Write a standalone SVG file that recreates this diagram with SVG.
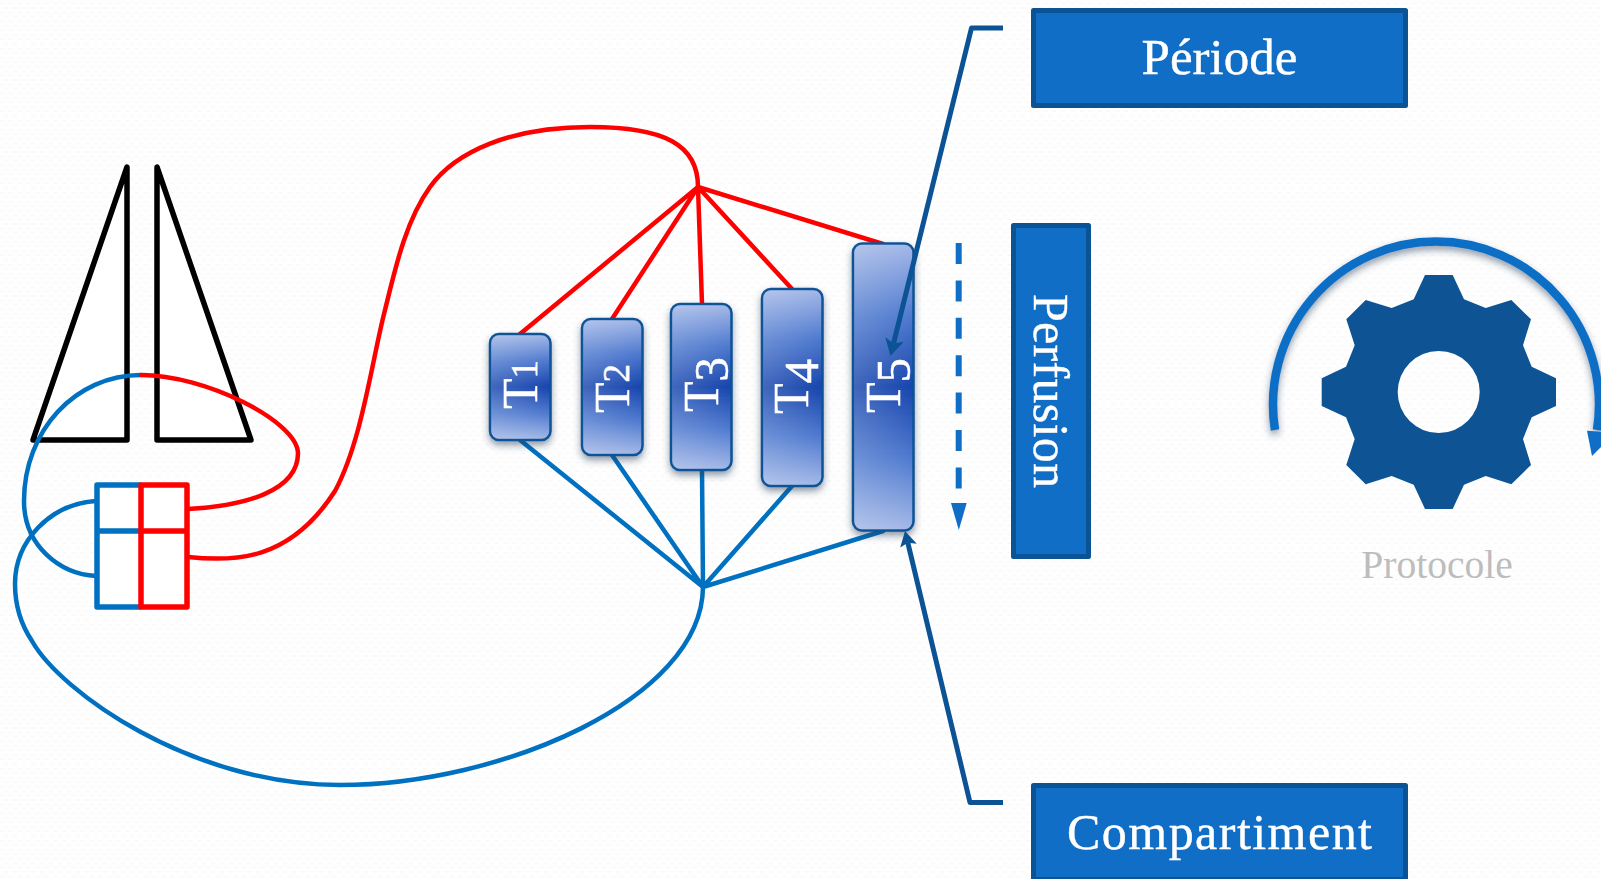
<svg xmlns="http://www.w3.org/2000/svg" width="1601" height="879" viewBox="0 0 1601 879">
<style>
text{font-family:"Liberation Serif","Times New Roman",serif}
.red{fill:none;stroke:#ff0000;stroke-width:4.500;stroke-linecap:round;stroke-linejoin:round}
.blue{fill:none;stroke:#0070c0;stroke-width:4.500;stroke-linecap:round;stroke-linejoin:round}
.tri{fill:#fff;stroke:#000;stroke-width:5.500;stroke-linejoin:round}
.cell{fill:#fff;stroke-width:5.500;stroke-linejoin:round}
.tb{fill:url(#tg);stroke:#0c5395;stroke-width:2.500}
.ov{fill:url(#th);stroke:none}
.tl{fill:#fff;stroke:#fff;stroke-width:.5;font-size:50px}
.box{fill:#106ec6;stroke:#0c5395;stroke-width:5;stroke-linejoin:round}
.bl{fill:#fff;stroke:#fff;stroke-width:.4;font-size:50px}
.call{fill:none;stroke:#0c5395;stroke-width:5;stroke-linejoin:round}
</style>
<defs>
<pattern id="bg" width="9" height="9" patternUnits="userSpaceOnUse">
<rect width="9" height="9" fill="#fefefe"/>
<rect x="0" y="3" width="3" height="1" fill="#f6f6f6"/>
<rect x="4.500" y="7.500" width="3" height="1" fill="#f6f6f6"/>
</pattern>
<linearGradient id="tg" x1="0.5" y1="0" x2="0.5" y2="1">
<stop offset="0" stop-color="#a5b9e8"/>
<stop offset="0.25" stop-color="#4f7acf"/>
<stop offset="0.5" stop-color="#1745ad"/>
<stop offset="0.75" stop-color="#4f7acf"/>
<stop offset="1" stop-color="#a5b9e8"/>
</linearGradient>
<linearGradient id="th" x1="0" y1="0" x2="1" y2="0">
<stop offset="0" stop-color="#fff" stop-opacity="0.18"/>
<stop offset="1" stop-color="#fff" stop-opacity="0"/>
</linearGradient>
<filter id="sh" x="-30%" y="-30%" width="160%" height="160%">
<feDropShadow dx="0" dy="4" stdDeviation="3.500" flood-color="#1f3556" flood-opacity="0.5"/>
</filter>
<marker id="hl" markerUnits="userSpaceOnUse" markerWidth="17" markerHeight="19" viewBox="0 0 17 19" refX="4" refY="9.500" orient="auto">
<path d="M0,0L17,9.500L0,19L4,9.500Z" fill="#0c5395"/>
</marker>
<marker id="hs" markerUnits="userSpaceOnUse" markerWidth="15" markerHeight="17" viewBox="0 0 15 17" refX="3" refY="8.500" orient="auto">
<path d="M0,0L15,8.500L0,17L3,8.500Z" fill="#0c5395"/>
</marker>
</defs>
<rect id="background" width="1601" height="879" fill="url(#bg)"/>
<g id="triangles">
<path class="tri" d="M127,167L127,440L33,440Z"/>
<path class="tri" d="M157,167L157,440L251,440Z"/>
</g>
<g id="grid">
<path class="cell" stroke="#0070c0" d="M141,485H97V607H141M97,531H141"/>
<path class="cell" stroke="#ff0000" d="M141,485H187V607H141ZM141,531H187"/>
</g>
<g id="connectors">
<path class="blue" d="M96,576C60,574 24,546 24,501C24,431 75,375 141,375"/>
<path class="red" d="M141,375C205,375 297,421 298,453C298,491 245,506 188,509"/>
<path class="red" d="M188,557C235,562 290,561 335,491C362,441 372,360 385,310C395,270 405,222 430,187C455,152 510,127 590,127C665,127 698,145 698,187"/>
<path class="blue" d="M96,501C50,504 15,541 15,584C15,606 22,626 32,641C60,691 190,785 340,785C500,785 702,700 703,587"/>
<path class="red" d="M698,187L520,334M698,187L612,319M698,187L702,304M698,187L792,289M698,187L883,244"/>
<path class="blue" d="M703,587L520,440M703,587L612,455M703,587L702,470M703,587L792,486M703,587L883,531"/>
</g>
<g id="T1"><rect class="tb" filter="url(#sh)" x="490" y="334" width="60.500" height="106" rx="9"/><rect class="ov" x="491" y="335" width="58.500" height="104" rx="8"/><text class="tl" transform="translate(536.500,409) rotate(-90)">T<tspan font-size="37">1</tspan></text></g>
<g id="T2"><rect class="tb" filter="url(#sh)" x="582" y="319" width="60.500" height="136" rx="9"/><rect class="ov" x="583" y="320" width="58.500" height="134" rx="8"/><text class="tl" transform="translate(628.500,413) rotate(-90)">T<tspan font-size="37">2</tspan></text></g>
<g id="T3"><rect class="tb" filter="url(#sh)" x="671" y="304" width="60.500" height="166" rx="9"/><rect class="ov" x="672" y="305" width="58.500" height="164" rx="8"/><text class="tl" transform="translate(718,412) rotate(-90)">T<tspan font-size="49" dy="10">3</tspan></text></g>
<g id="T4"><rect class="tb" filter="url(#sh)" x="762" y="289" width="60.500" height="197" rx="9"/><rect class="ov" x="763" y="290" width="58.500" height="195" rx="8"/><text class="tl" transform="translate(808,414) rotate(-90)">T<tspan font-size="49" dy="10">4</tspan></text></g>
<g id="T5"><rect class="tb" filter="url(#sh)" x="853" y="243.500" width="60.500" height="287" rx="9"/><rect class="ov" x="854" y="244.500" width="58.500" height="285" rx="8"/><text class="tl" transform="translate(900,413) rotate(-90)">T<tspan font-size="49" dy="10">5</tspan></text></g>
<g id="callouts">
<path class="call" marker-end="url(#hl)" d="M1003,28H971.500L893.600,343.400"/>
<path class="call" marker-end="url(#hs)" d="M1003,802.500H970L907.800,542.700"/>
</g>
<g id="dashed-arrow">
<path d="M958.700,243V500" fill="none" stroke="#106ec6" stroke-width="6" stroke-dasharray="21 16.400"/>
<path d="M951,503H966.700L958.800,530Z" fill="#106ec6"/>
</g>
<g id="periode"><rect class="box" x="1033.500" y="10.500" width="372" height="95"/><text class="bl" x="1219.500" y="74" text-anchor="middle" font-size="51" style="font-size:51px">Période</text></g>
<g id="perfusion"><rect class="box" x="1013.500" y="225.500" width="75" height="331"/><text class="bl" transform="translate(1034,294) rotate(90)" textLength="194">Perfusion</text></g>
<g id="compartiment"><rect class="box" x="1033.500" y="785.500" width="372" height="94"/><text class="bl" x="1067" y="849" textLength="305">Compartiment</text></g>
<g id="protocole">
<path d="M1275,430A163,163 0 1 1 1597,430" fill="none" stroke="#106ec6" stroke-width="8.500" filter="url(#sh)"/>
<path d="M1587,430.700L1592,456L1615,433Z" fill="#106ec6"/>
<path fill="#0e5495" fill-rule="evenodd" d="M1425,275H1452.700L1464,299.300L1485.700,308L1511.300,300L1531,319.300L1523,345.300L1531.700,366.700L1556,378.300V406L1531.700,417.300L1523,439L1531,465L1511.300,484.300L1485.700,476L1464,484.700L1452.700,509H1425L1413.700,484.700L1391.700,476L1365.700,484.300L1346.300,465L1354.700,439L1346,417.300L1321.700,406V378.300L1346,366.700L1354.700,345.300L1346.300,319.300L1365.700,300L1391.700,308L1413.700,299.300ZM1479.700,392A41,41 0 1 0 1397.700,392A41,41 0 1 0 1479.700,392Z"/>
<text x="1437" y="578" text-anchor="middle" font-size="39.500" fill="#bdbdbd">Protocole</text>
</g>
</svg>
